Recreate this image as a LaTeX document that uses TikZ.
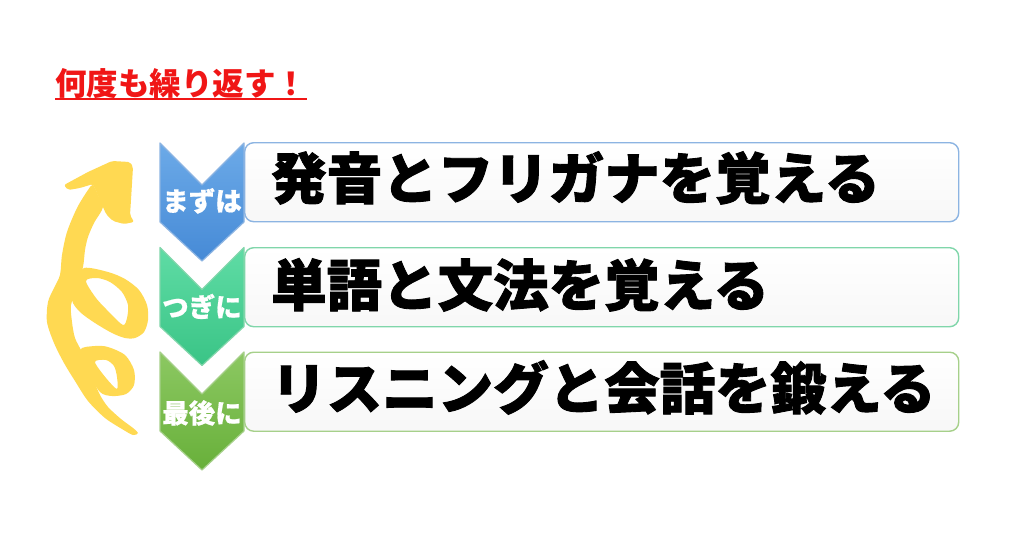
\documentclass[tikz,border=0pt]{standalone}
\usepackage{fontspec}
\newfontfamily\jp{Noto Sans CJK JP}
\newfontfamily\jpheavy{Noto Sans CJK JP}[FakeBold=1.6]
\newfontfamily\jpmid{Noto Sans CJK JP}[FakeBold=0.6]
\definecolor{ylw}{RGB}{255,217,82}
\definecolor{ttlred}{RGB}{240,22,22}
\definecolor{bluetop}{RGB}{108,170,232}
\definecolor{bluebot}{RGB}{70,138,214}
\definecolor{bluebd}{RGB}{140,180,226}
\definecolor{greentop}{RGB}{95,220,165}
\definecolor{greenbot}{RGB}{58,196,134}
\definecolor{greenbd}{RGB}{128,214,170}
\definecolor{lgtop}{RGB}{140,200,98}
\definecolor{lgbot}{RGB}{104,176,58}
\definecolor{lgbd}{RGB}{166,208,138}
\tikzset{
  rbox/.style={rounded corners=9pt, line width=1.4pt, minimum width=714pt, minimum height=79pt,
    anchor=north west, inner sep=0pt, top color=white, bottom color=black!3},
  bigtext/.style={anchor=base west, inner sep=0pt, font=\jpheavy\bfseries\fontsize{55.5}{60}\selectfont, text=black},
  chevlabel/.style={anchor=base, inner sep=0pt, font=\jpmid\bfseries\fontsize{26.5}{30}\selectfont, text=white},
  chevshape/.style={line width=1.2pt, line join=round}
}
\begin{document}
\begin{tikzpicture}[x=1pt,y=-1pt]
\fill[white] (0,0) rectangle (1024,538);
\path[use as bounding box] (0,0) rectangle (1024,538);

% title
\node[anchor=base west, inner sep=0pt, text=ttlred, font=\jp\bfseries\fontsize{31.5}{36}\selectfont] (title) at (55,95) {何度も繰り返す！};
\draw[ttlred, line width=2pt] (55,99) -- (307,99);

% boxes
\node[rbox, draw=bluebd] (b1) at (244,142) {};
\node[rbox, draw=greenbd] (b2) at (244,247) {};
\node[rbox, draw=lgbd] (b3) at (244,351.5) {};

% chevrons
\draw[chevshape, draw=bluebd, top color=bluetop, bottom color=bluebot]
  (160,143) -- (202,185) -- (244,143) -- (244,222) -- (202,261) -- (160,222) -- cycle;
\draw[chevshape, draw=greenbd, top color=greentop, bottom color=greenbot]
  (160,247.5) -- (202,289.5) -- (244,247.5) -- (244,326.5) -- (202,365.5) -- (160,326.5) -- cycle;
\draw[chevshape, draw=lgbd, top color=lgtop, bottom color=lgbot]
  (160,352) -- (202,394) -- (244,352) -- (244,431) -- (202,470) -- (160,431) -- cycle;

\node[chevlabel] (c1) at (202,211) {まずは};
\node[chevlabel] (c2) at (202,317) {つぎに};
\node[chevlabel] (c3) at (202,423) {最後に};

% texts
\node[bigtext] (t1) at (271,199) {発音とフリガナを覚える};
\node[bigtext] (t2) at (271,306) {単語と文法を覚える};
\node[bigtext] (t3) at (271,409) {リスニングと会話を鍛える};

% yellow looping arrow
\fill[ylw, rounded corners=2pt] (64,185) -- (88,172) -- (112,161) -- (130,162) -- (133,167) -- (131,200)
  -- (130,215) -- (134,222) -- (124,224) -- (113,221) -- (106,214) -- (103,207) -- (93,184)
  -- (80,188) -- (68,190) -- cycle;
\fill[ylw] plot[smooth cycle] coordinates {(98,195) (103,207) (94,223) (88,237) (85,250) (83,267)
  (77,288) (71,305) (72,322) (75,338) (82,352) (88,366) (94,381) (100,395) (108,407) (121,419)
  (133,428) (138,433) (133,435) (122,429) (105,418) (88,401) (75,381) (64,363) (54,343) (47,322)
  (48,302) (54,288) (60,275) (62,255) (67,232) (77,208) (88,190) (93,185)};
\fill[ylw, even odd rule]
  plot[smooth cycle] coordinates {(84,268) (108,272) (125,279) (139,290) (147,305) (148,320) (144,332)
    (135,338) (125,338) (112,333) (95,323) (80,312) (72,300) (76,282)}
  plot[smooth cycle] coordinates {(86,281) (97,278) (110,282) (122,292) (128,305) (127,318) (123,325) (110,313) (96,298)};
\fill[ylw, even odd rule]
  plot[smooth cycle] coordinates {(80,350) (95,346) (108,347) (125,355) (134,370) (134,385) (126,394)
    (112,396) (100,392) (88,372)}
  plot[smooth cycle] coordinates {(95,362) (106,360) (114,366) (117,377) (117,389) (106,378)};
\end{tikzpicture}
\end{document}
